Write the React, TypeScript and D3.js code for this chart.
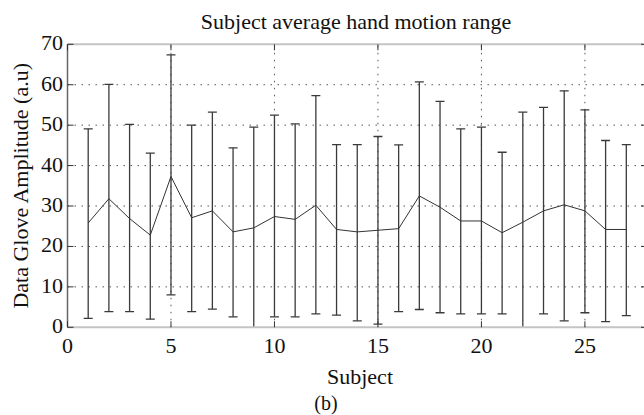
import * as d3 from 'd3';

// values
const subjects = d3.range(1, 28);
const means = [25.8, 31.8, 26.9, 22.8, 37.3, 27.1, 28.8, 23.6, 24.6, 27.4, 26.7, 30.2, 24.2, 23.6, 24.0, 24.4, 32.5, 29.7, 26.3, 26.3, 23.4, 26.0, 28.8, 30.3, 28.8, 24.2, 24.2];
const upper = [49.1, 60.1, 50.2, 43.1, 67.4, 50.0, 53.2, 44.4, 49.5, 52.5, 50.3, 57.3, 45.2, 45.2, 47.2, 45.1, 60.7, 55.9, 49.1, 49.5, 43.3, 53.2, 54.4, 58.5, 53.8, 46.2, 45.2];
const lower = [2.2, 3.9, 3.9, 2.0, 8.0, 3.9, 4.5, 2.6, -0.3, 2.6, 2.6, 3.3, 3.0, 1.6, 0.8, 3.9, 4.4, 3.6, 3.3, 3.3, 3.3, -1.2, 3.3, 1.6, 3.6, 1.4, 2.9];
const xTicks = [0, 5, 10, 15, 20, 25];
const yTicks = [0, 10, 20, 30, 40, 50, 60, 70];

const W = 644;
const H = 415;
const serif = { fontFamily: "'Liberation Serif', 'Times New Roman', serif" };

export default function App() {
  const x = d3.scaleLinear().domain([0, 28]).range([67.5, 647]);
  const y = d3.scaleLinear().domain([0, 70]).range([327.3, 44.3]);
  const [x0, x1] = x.range();
  const [y0, y1] = y.range();
  const cap = 4.5;
  const tick = 6;

  const line = d3.line<number>()
    .x((_, i) => x(subjects[i]))
    .y(d => y(d));

  return (
    <svg width={W} height={H} style={{ position: 'absolute', left: 0, top: 0, background: '#fff', ...serif }}>
      <defs>
        <clipPath id="plot">
          <rect x={x0} y={y1} width={x1 - x0} height={y0 - y1} />
        </clipPath>
      </defs>

      {/* grid */}
      <g stroke="#555" strokeWidth={1} strokeDasharray="1.5 5.5">
        {yTicks.slice(1, -1).map(t => (
          <line key={'gy' + t} x1={x0} x2={x1} y1={y(t)} y2={y(t)} />
        ))}
        {xTicks.slice(1).map(t => (
          <line key={'gx' + t} x1={x(t)} x2={x(t)} y1={y0} y2={y1} />
        ))}
      </g>

      {/* error bars */}
      <g stroke="#3a3a3a" strokeWidth={1.3} clipPath="url(#plot)">
        {subjects.map((s, i) => (
          <g key={s}>
            <line x1={x(s)} x2={x(s)} y1={y(lower[i])} y2={y(upper[i])} />
            <line x1={x(s) - cap} x2={x(s) + cap} y1={y(upper[i])} y2={y(upper[i])} />
            <line x1={x(s) - cap} x2={x(s) + cap} y1={y(lower[i])} y2={y(lower[i])} />
          </g>
        ))}
      </g>

      {/* mean line */}
      <path d={line(means) ?? ''} fill="none" stroke="#333" strokeWidth={1} />

      {/* axes box */}
      <line x1={x0} x2={x1} y1={y1} y2={y1} stroke="#c4c4c4" strokeWidth={2} />
      <line x1={x0} x2={x1} y1={y0} y2={y0} stroke="#c4c4c4" strokeWidth={2} />
      <line x1={x0} x2={x0} y1={y0} y2={y1} stroke="#666" strokeWidth={1.5} />
      <line x1={x1} x2={x1} y1={y0} y2={y1} stroke="#666" strokeWidth={1.5} />

      {/* ticks */}
      <g stroke="#333" strokeWidth={1}>
        {xTicks.map(t => (
          <g key={'tx' + t}>
            <line x1={x(t)} x2={x(t)} y1={y0} y2={y0 - tick} />
            <line x1={x(t)} x2={x(t)} y1={y1} y2={y1 + tick} />
          </g>
        ))}
        {yTicks.map(t => (
          <g key={'ty' + t}>
            <line x1={x0} x2={x0 + tick} y1={y(t)} y2={y(t)} />
            <line x1={x1} x2={x1 - tick} y1={y(t)} y2={y(t)} />
          </g>
        ))}
      </g>

      {/* tick labels */}
      <g fontSize={22} fill="#111">
        {xTicks.map(t => (
          <text key={'lx' + t} x={x(t)} y={353} textAnchor="middle" style={serif}>{t}</text>
        ))}
        {yTicks.map(t => (
          <text key={'ly' + t} x={63} y={y(t) + 6} textAnchor="end" style={serif}>{t}</text>
        ))}
      </g>

      {/* titles */}
      <text x={356} y={29} fontSize={22} textAnchor="middle" fill="#111" style={serif}>Subject average hand motion range</text>
      <text x={360} y={384} fontSize={22} textAnchor="middle" fill="#111" style={serif}>Subject</text>
      <text x={326} y={410} fontSize={20} textAnchor="middle" fill="#111" style={serif}>(b)</text>
      <text transform={`translate(28,${(y0 + y1) / 2}) rotate(-90)`} fontSize={22} textAnchor="middle" fill="#111" style={serif}>
        Data Glove Amplitude (a.u)
      </text>
    </svg>
  );
}
